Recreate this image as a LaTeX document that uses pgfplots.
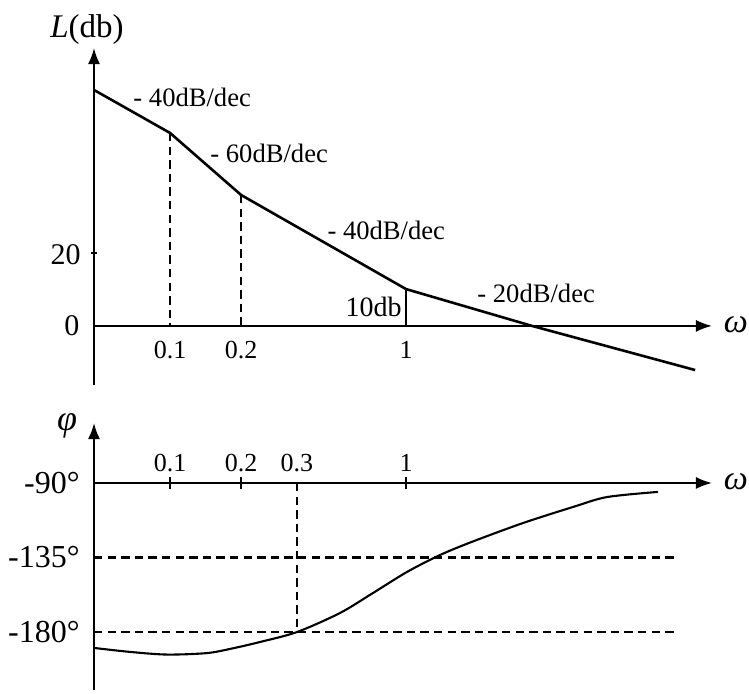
\documentclass[border=0pt]{standalone}
\usepackage{fontspec}
\setmainfont{Liberation Serif}
\usepackage{pgfplots}
\pgfplotsset{compat=1.18}
\usetikzlibrary{arrows.meta}
\begin{document}
\begin{tikzpicture}[
  ax/.style={line width=1pt,-{Latex[length=8pt,width=6pt]}},
  dsh/.style={line width=1.2pt,dash pattern=on 4.2pt off 2.6pt},
  lab/.style={font=\fontsize{13}{15}\selectfont,inner sep=0pt},
  slp/.style={font=\fontsize{13.3}{15}\selectfont,inner sep=0pt},
  big/.style={font=\fontsize{16}{18}\selectfont,inner sep=0pt}]
\useasboundingbox (0,0) rectangle (374.5pt,346.5pt);
% ---------------- magnitude ----------------
\begin{axis}[at={(47pt,154pt)},anchor=south west,scale only axis,
  width=309pt,height=168.5pt,xmode=log,xmin=0.0476,xmax=19.8,
  ymin=-16.2,ymax=76.2,hide axis,clip=false]
\addplot[black,line width=1.3pt] coordinates {
  (0.0476,64.7) (0.1,52.9) (0.2,35.9) (1,10.1) (3.42,0) (16.8,-12.1)};
\draw[ax] (axis cs:0.0476,-16.2) -- (axis cs:0.0476,76.2);
\draw[ax] (axis cs:0.0476,0) -- (axis cs:19.8,0);
\draw[dsh] (axis cs:0.1,52.9) -- (axis cs:0.1,0);
\draw[dsh] (axis cs:0.2,35.9) -- (axis cs:0.2,0);
\draw[line width=0.9pt] (axis cs:1,10.1) -- (axis cs:1,0);
\draw[line width=0.8pt] ([xshift=-1.5pt]axis cs:0.0476,20) -- ([xshift=1.5pt]axis cs:0.0476,20);
\node[slp,anchor=west] at (axis cs:0.0697,62.7) {- 40dB/dec};
\node[slp,anchor=west] at (axis cs:0.1477,47.4) {- 60dB/dec};
\node[slp,anchor=west] at (axis cs:0.463,26.3) {- 40dB/dec};
\node[slp,anchor=west] at (axis cs:2.0,9.0) {- 20dB/dec};
\node[font=\fontsize{14}{16}\selectfont,inner sep=0pt,anchor=east] at ([xshift=-2pt]axis cs:1,5.2) {10db};
\node[lab] at (axis cs:0.1,-6.5) {0.1};
\node[lab] at (axis cs:0.2,-6.5) {0.2};
\node[lab] at (axis cs:1,-6.5) {1};
\node[font=\fontsize{15}{17}\selectfont,inner sep=0pt,anchor=east] at ([xshift=-6.5pt]axis cs:0.0476,19.5) {20};
\node[font=\fontsize{15}{17}\selectfont,inner sep=0pt] at ([xshift=-11pt]axis cs:0.0476,0) {0};
\node[font=\fontsize{17}{19}\selectfont,inner sep=0pt] at ([xshift=12pt,yshift=0.5pt]axis cs:19.8,0) {\textit{ω}};
\node[font=\fontsize{16.5}{18}\selectfont,inner sep=0pt] at ([xshift=-3.5pt,yshift=9pt]axis cs:0.0476,76.2) {\textit{L}(db)};
\end{axis}
% ---------------- phase ----------------
\begin{axis}[at={(47pt,1.5pt)},anchor=south west,scale only axis,
  width=309pt,height=133.5pt,xmode=log,xmin=0.0476,xmax=19.8,
  ymin=-215,ymax=-53.8,hide axis,clip=false]
\addplot[black,line width=1.05pt,smooth] coordinates {
  (0.0476,-189.6) (0.0677,-192) (0.0971,-193.6) (0.1435,-192.7)
  (0.185,-189.8) (0.2406,-186) (0.345,-180) (0.525,-168.5)
  (0.725,-156.4) (1.01,-143.7) (1.393,-133.5) (1.922,-125.3)
  (3.13,-114.2) (5.10,-104.5) (7.11,-98.5) (11.69,-95.4)};
\draw[ax] (axis cs:0.0476,-215) -- (axis cs:0.0476,-53.8);
\draw[ax] (axis cs:0.0476,-90) -- (axis cs:19.8,-90);
\draw[dsh] (axis cs:0.0476,-135) -- (axis cs:14.07,-135);
\draw[dsh] (axis cs:0.0476,-180) -- (axis cs:14.07,-180);
\draw[dsh] (axis cs:0.345,-90) -- (axis cs:0.345,-180);
\draw[line width=1pt] ([yshift=-3pt]axis cs:0.1,-90) -- ([yshift=3pt]axis cs:0.1,-90);
\draw[line width=1pt] ([yshift=-3pt]axis cs:0.2,-90) -- ([yshift=3pt]axis cs:0.2,-90);
\draw[line width=1pt] ([yshift=-3pt]axis cs:1,-90) -- ([yshift=3pt]axis cs:1,-90);
\node[lab] at (axis cs:0.1,-77.9) {0.1};
\node[lab] at (axis cs:0.2,-77.9) {0.2};
\node[lab] at (axis cs:0.345,-77.9) {0.3};
\node[lab] at (axis cs:1,-77.9) {1};
\node[big,anchor=east] at ([xshift=-7pt]axis cs:0.0476,-90) {-90°};
\node[big,anchor=east] at ([xshift=-7pt]axis cs:0.0476,-135) {-135°};
\node[big,anchor=east] at ([xshift=-7pt]axis cs:0.0476,-180) {-180°};
\node[font=\fontsize{17}{19}\selectfont,inner sep=0pt] at ([xshift=12pt,yshift=0.5pt]axis cs:19.8,-90) {\textit{ω}};
\node[font=\fontsize{18}{20}\selectfont,inner sep=0pt] at ([xshift=-13.5pt]axis cs:0.0476,-55.5) {\textit{φ}};
\end{axis}
\end{tikzpicture}
\end{document}
